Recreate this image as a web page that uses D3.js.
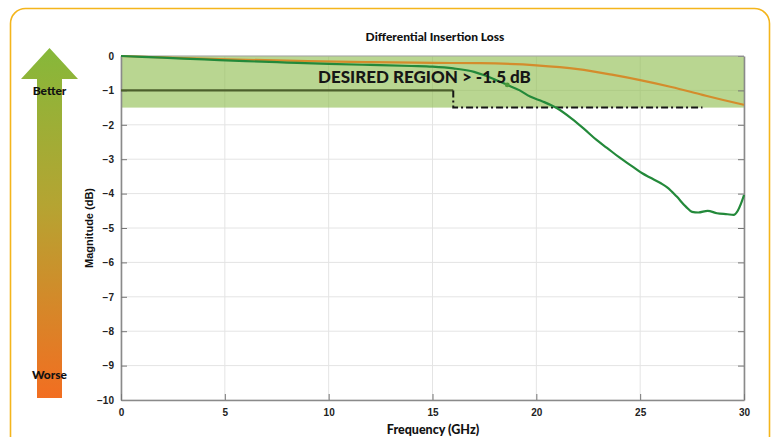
<!DOCTYPE html>
<html>
<head>
<meta charset="utf-8">
<script src="https://cdn.jsdelivr.net/npm/d3@7"></script>
<style>
  html, body { margin: 0; padding: 0; background: #fff; }
  svg { display: block; }
</style>
</head>
<body>
<svg id="chart" width="772" height="437"></svg>
<script>
// Axis ticks
const xTicks = [0, 5, 10, 15, 20, 25, 30];
const yTicks = [0, -1, -2, -3, -4, -5, -6, -7, -8, -9, -10];

// Measured insertion loss, frequency (GHz) vs magnitude (dB)
const greenFreq = [0, 2, 4, 6, 8, 10, 12, 14, 15, 16, 17, 17.5, 18, 18.6, 19.2, 19.7, 20.3, 21, 21.7, 22.3, 22.9, 23.4, 24, 24.6, 25.1, 25.5, 26, 26.3, 26.75, 27.2, 27.5, 27.8, 28.25, 28.7, 29.2, 29.5, 29.7, 29.85, 30];
const greenDb   = [0, -0.05, -0.1, -0.15, -0.19, -0.23, -0.26, -0.29, -0.31, -0.36, -0.46, -0.56, -0.68, -0.84, -1.0, -1.18, -1.32, -1.52, -1.82, -2.12, -2.44, -2.67, -2.95, -3.2, -3.41, -3.54, -3.7, -3.82, -4.08, -4.38, -4.53, -4.55, -4.5, -4.57, -4.6, -4.62, -4.5, -4.3, -4.04];
const orangeFreq = [0, 3, 6, 9, 12, 15, 17.3, 20, 22, 23.7, 25, 26.5, 28, 29, 30];
const orangeDb   = [0, -0.06, -0.11, -0.15, -0.18, -0.2, -0.21, -0.27, -0.38, -0.55, -0.7, -0.9, -1.13, -1.28, -1.42];
const markerPoint = [18.6, -0.84];

// Requirement mask: -1 dB up to 16 GHz, -1.5 dB from 16 to 28 GHz
const maskSolid = [[0, -1], [16, -1]];
const maskStep = [[16, -1], [16, -1.5], [28, -1.5]];
const desiredLimit = -1.5;

const svg = d3.select("#chart");
const W = 772, H = 437;
const margin = { left: 121, right: 28, top: 56, bottom: 37 };

const x = d3.scaleLinear().domain([0, 30]).range([margin.left, W - margin.right]);
const y = d3.scaleLinear().domain([-10, 0]).range([H - margin.bottom, margin.top]);

const fontHead = "Lato, 'Open Sans', sans-serif";
const fontAxis = "'Liberation Sans', Arial, sans-serif";

// Rounded card frame
svg.append("rect")
  .attr("x", 10.5).attr("y", 8.5)
  .attr("width", 759).attr("height", 460)
  .attr("rx", 15).attr("ry", 15)
  .attr("fill", "#fff")
  .attr("stroke", "#f4b51c").attr("stroke-width", 1.6);

// Better/worse arrow
const defs = svg.append("defs");
const grad = defs.append("linearGradient").attr("id", "arrowGrad")
  .attr("x1", 0).attr("y1", 0).attr("x2", 0).attr("y2", 1);
grad.append("stop").attr("offset", "0%").attr("stop-color", "#86b83a");
grad.append("stop").attr("offset", "45%").attr("stop-color", "#b5a432");
grad.append("stop").attr("offset", "100%").attr("stop-color", "#f26e21");

const ax = 49.5, tipY = 48, headY = 79, shaftW = 25, headW = 57, bottomY = 398;
svg.append("path")
  .attr("d", `M${ax},${tipY} L${ax + headW / 2},${headY} L${ax + shaftW / 2},${headY} L${ax + shaftW / 2},${bottomY} L${ax - shaftW / 2},${bottomY} L${ax - shaftW / 2},${headY} L${ax - headW / 2},${headY} Z`)
  .attr("fill", "url(#arrowGrad)");

svg.append("text").attr("x", ax).attr("y", 95)
  .attr("text-anchor", "middle")
  .attr("font-family", fontHead).attr("font-weight", 900)
  .attr("font-size", 12).attr("fill", "#111").text("Better");
svg.append("text").attr("x", ax).attr("y", 379)
  .attr("text-anchor", "middle")
  .attr("font-family", fontHead).attr("font-weight", 900)
  .attr("font-size", 12).attr("fill", "#111").text("Worse");

// Grid
const grid = svg.append("g");
grid.selectAll(".gx").data(xTicks).join("line")
  .attr("x1", d => x(d)).attr("x2", d => x(d))
  .attr("y1", y(0)).attr("y2", y(-10))
  .attr("stroke", "#e4e4e4").attr("stroke-width", 1);
grid.selectAll(".gy").data(yTicks).join("line")
  .attr("x1", x(0)).attr("x2", x(30))
  .attr("y1", d => y(d)).attr("y2", d => y(d))
  .attr("stroke", "#e4e4e4").attr("stroke-width", 1);

// Desired region shading
svg.append("rect")
  .attr("x", x(0)).attr("y", y(0))
  .attr("width", x(30) - x(0)).attr("height", y(desiredLimit) - y(0))
  .attr("fill", "#8ebd4e").attr("fill-opacity", 0.62);

// Axes box and inward ticks
const axisColor = "#8a8a8a";

const yAxis = d3.axisLeft(y).tickValues(yTicks).tickSizeInner(-6).tickSizeOuter(0).tickPadding(7).tickFormat(d3.format("d"));
const yg = svg.append("g").attr("transform", `translate(${x(0)},0)`).call(yAxis);
const yAxisR = d3.axisRight(y).tickValues(yTicks).tickSizeInner(-6).tickSizeOuter(0).tickFormat("");
const ygr = svg.append("g").attr("transform", `translate(${x(30)},0)`).call(yAxisR);
const xAxis = d3.axisBottom(x).tickValues(xTicks).tickSizeInner(-6).tickSizeOuter(0).tickPadding(9).tickFormat(d3.format("d"));
const xg = svg.append("g").attr("transform", `translate(0,${y(-10)})`).call(xAxis);

[yg, ygr, xg].forEach(g => {
  g.select(".domain").attr("stroke", axisColor).attr("stroke-width", 1.6);
  g.selectAll(".tick line").attr("stroke", "#777").attr("stroke-width", 1);
  g.selectAll(".tick text")
    .attr("font-family", fontAxis).attr("font-weight", 700)
    .attr("font-size", 10).attr("fill", "#222");
});
// top border
svg.append("line").attr("x1", x(0)).attr("x2", x(30)).attr("y1", y(0)).attr("y2", y(0))
  .attr("stroke", "#a8a8a8").attr("stroke-width", 1);

// Requirement mask lines
const lineGen = d3.line().x(d => x(d[0])).y(d => y(d[1]));
svg.append("path").datum(maskSolid).attr("d", lineGen)
  .attr("fill", "none").attr("stroke", "#4c5f2c").attr("stroke-width", 2.2);
svg.append("path").datum(maskStep).attr("d", lineGen)
  .attr("fill", "none").attr("stroke", "#151515").attr("stroke-width", 2)
  .attr("stroke-dasharray", "7,3,2,3");

// Insertion loss curves
const curve = d3.line().x(d => x(d[0])).y(d => y(d[1])).curve(d3.curveMonotoneX);
svg.append("path").datum(orangeFreq.map((f, i) => [f, orangeDb[i]]))
  .attr("d", curve).attr("fill", "none")
  .attr("stroke", "#d48c2c").attr("stroke-width", 2.2);
svg.append("path").datum(greenFreq.map((f, i) => [f, greenDb[i]]))
  .attr("d", curve).attr("fill", "none")
  .attr("stroke", "#23893a").attr("stroke-width", 2.2);
svg.append("circle")
  .attr("cx", x(markerPoint[0])).attr("cy", y(markerPoint[1])).attr("r", 2.4)
  .attr("fill", "#4a9a3a");

// Region label
svg.append("text")
  .attr("x", 318).attr("y", 83)
  .attr("font-family", fontHead).attr("font-weight", 900)
  .attr("font-size", 17).attr("fill", "#161616")
  .text("DESIRED REGION > -1.5 dB");

// Title and axis labels
svg.append("text").attr("x", 435).attr("y", 41)
  .attr("text-anchor", "middle")
  .attr("font-family", fontHead).attr("font-weight", 900)
  .attr("font-size", 12).attr("fill", "#111")
  .text("Differential Insertion Loss");
svg.append("text").attr("x", 433).attr("y", 434)
  .attr("text-anchor", "middle")
  .attr("font-family", fontHead).attr("font-weight", 900)
  .attr("font-size", 12.5).attr("fill", "#111")
  .text("Frequency (GHz)");
svg.append("text")
  .attr("transform", `translate(93,${(y(0) + y(-10)) / 2}) rotate(-90)`)
  .attr("text-anchor", "middle")
  .attr("font-family", fontAxis).attr("font-weight", 700)
  .attr("font-size", 11).attr("fill", "#111")
  .text("Magnitude (dB)");
</script>
</body>
</html>
